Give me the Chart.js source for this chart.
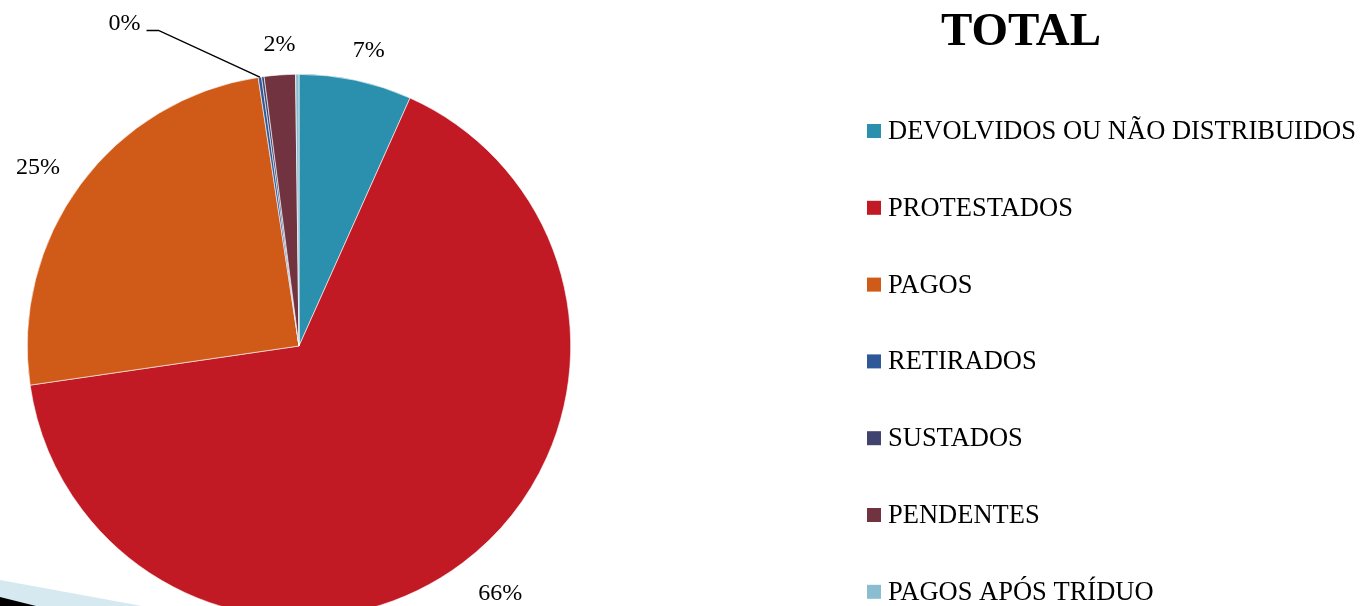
<!DOCTYPE html>
<html>
<head>
<meta charset="utf-8">
<script src="https://cdn.jsdelivr.net/npm/chart.js@4/dist/chart.umd.min.js"></script>
<style>
html,body{margin:0;padding:0;background:#fff;overflow:hidden;}
#wrap{width:1362px;height:606px;overflow:hidden;position:relative;}
canvas{display:block;}
</style>
</head>
<body>
<div id="wrap"><canvas id="c" width="1362" height="660"></canvas></div>
<script>
const categories = ['DEVOLVIDOS OU NÃO DISTRIBUIDOS','PROTESTADOS','PAGOS','RETIRADOS','SUSTADOS','PENDENTES','PAGOS APÓS TRÍDUO'];
const shares = [6.7, 66.0, 24.9, 0.2, 0.15, 1.85, 0.2];
const showLabel = [true, true, true, true, false, true, false];
const colors = ['#2A90AD','#C11A24','#D05A18','#2F5898','#3F436E','#71333F','#8BBDD0'];
const chartTitle = 'TOTAL';

const SERIF = '"Liberation Serif","Times New Roman",serif';

const deco = {
  id:'deco',
  beforeDraw(chart){
    const ctx = chart.ctx;
    ctx.save();
    ctx.fillStyle = '#D6E8F0';
    ctx.beginPath(); ctx.moveTo(0,580); ctx.lineTo(142,606); ctx.lineTo(0,606); ctx.closePath(); ctx.fill();
    ctx.fillStyle = '#000';
    ctx.beginPath(); ctx.moveTo(0,597); ctx.lineTo(36,606); ctx.lineTo(0,606); ctx.closePath(); ctx.fill();
    ctx.restore();
  }
};

const labelsPlugin = {
  id:'pieLabels',
  afterDatasetsDraw(chart){
    const ctx = chart.ctx;
    const meta = chart.getDatasetMeta(0);
    const data = chart.data.datasets[0].data;
    const total = data.reduce((a,b)=>a+b,0);
    ctx.save();
    ctx.font = '24px ' + SERIF;
    ctx.fillStyle = '#000';
    ctx.textAlign = 'center';
    ctx.textBaseline = 'middle';
    meta.data.forEach((arc,i)=>{
      if(!showLabel[i]) return;
      const p = arc.getProps(['x','y','startAngle','endAngle','outerRadius'],true);
      const mid = (p.startAngle + p.endAngle)/2;
      const txt = Math.round(data[i]/total*100) + '%';
      const w = ctx.measureText(txt).width;
      if (data[i]/total < 0.01) {
        const la = mid - 0.35;
        const ld = p.outerRadius*1.353;
        const lx = p.x + Math.cos(la)*ld, ly = p.y + Math.sin(la)*ld;
        const ex = p.x + Math.cos(mid)*p.outerRadius, ey = p.y + Math.sin(mid)*p.outerRadius;
        ctx.strokeStyle = '#000'; ctx.lineWidth = 1.5;
        ctx.beginPath();
        ctx.moveTo(lx + w/2 + 6, ly + 8);
        ctx.lineTo(lx + w/2 + 18, ly + 8);
        ctx.lineTo(ex, ey);
        ctx.stroke();
        ctx.fillText(txt, lx, ly + 1);
      } else {
        const d = p.outerRadius + 24;
        const ca = Math.cos(mid), sa = Math.sin(mid);
        const cx = p.x + ca*d + ca*w*0.75 + 3;
        const cy = p.y + sa*d + sa*10;
        ctx.fillText(txt, cx, cy + 4);
      }
    });
    ctx.restore();
  }
};

const legendPlugin = {
  id:'sideLegend',
  afterDraw(chart){
    const ctx = chart.ctx;
    ctx.save();
    ctx.fillStyle = '#000';
    ctx.font = 'bold 47px ' + SERIF;
    ctx.textAlign = 'center';
    ctx.textBaseline = 'middle';
    ctx.fillText(chartTitle, 1021, 33);
    ctx.font = '26.5px ' + SERIF;
    ctx.textAlign = 'left';
    const y0 = 131, step = 76.8;
    categories.forEach((c,i)=>{
      const y = y0 + i*step;
      ctx.fillStyle = colors[i];
      ctx.fillRect(867, y-7, 14, 14);
      ctx.fillStyle = '#000';
      ctx.fillText(c, 888, y+1);
    });
    ctx.restore();
  }
};

new Chart(document.getElementById('c'), {
  type:'pie',
  data:{
    labels: categories,
    datasets:[{
      data: shares,
      backgroundColor: colors,
      borderColor:'#ffffff',
      borderWidth:0.6
    }]
  },
  options:{
    responsive:false,
    animation:false,
    devicePixelRatio:1,
    layout:{padding:{left:27,top:74,right:791,bottom:42}},
    plugins:{legend:{display:false},tooltip:{enabled:false},title:{display:false}}
  },
  plugins:[deco,labelsPlugin,legendPlugin]
});
</script>
</body>
</html>
